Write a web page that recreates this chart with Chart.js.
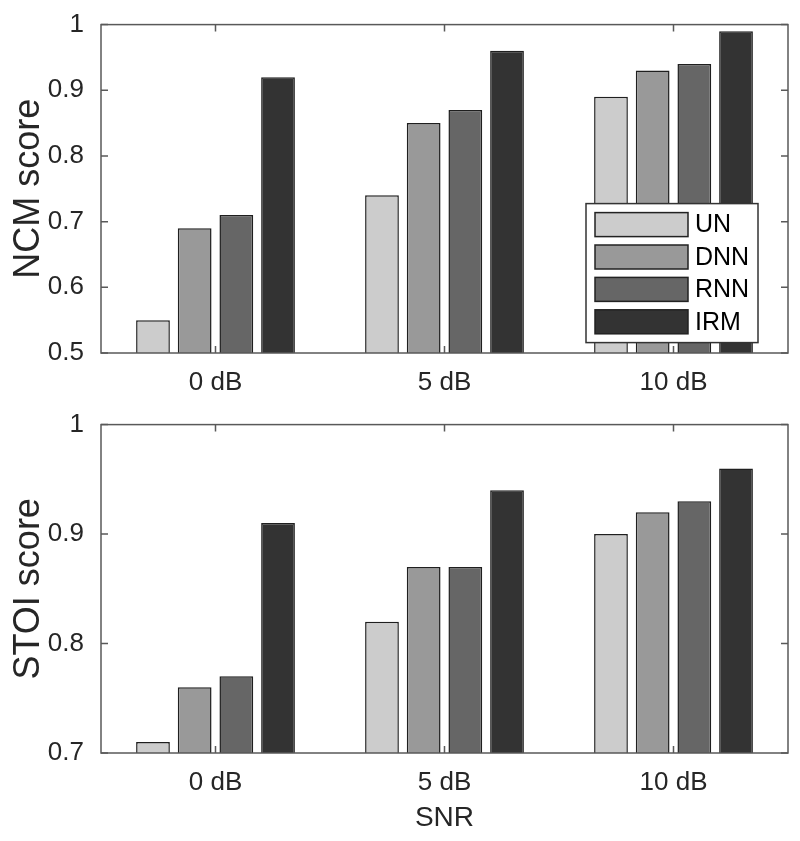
<!DOCTYPE html>
<html>
<head>
<meta charset="utf-8">
<script src="https://cdn.jsdelivr.net/npm/chart.js@4.4.0/dist/chart.umd.min.js"></script>
<style>
  body { margin: 0; background: #fff; }
  canvas { position: absolute; left: 0; }
  #ncm { top: 0; }
  #stoi { top: 400px; }
</style>
</head>
<body>
<canvas id="ncm" width="800" height="400"></canvas>
<canvas id="stoi" width="800" height="441"></canvas>
<script>
// data
const snrLabels = ["0 dB", "5 dB", "10 dB"];
const methods = ["UN", "DNN", "RNN", "IRM"];
const methodColors = ["#cccccc", "#999999", "#666666", "#333333"];

const ncmUN  = [0.55, 0.74, 0.89];
const ncmDNN = [0.69, 0.85, 0.93];
const ncmRNN = [0.71, 0.87, 0.94];
const ncmIRM = [0.92, 0.96, 0.99];

const stoiUN  = [0.71, 0.82, 0.90];
const stoiDNN = [0.76, 0.87, 0.92];
const stoiRNN = [0.77, 0.87, 0.93];
const stoiIRM = [0.91, 0.94, 0.96];

Chart.defaults.font.family = "'Liberation Sans', Arial, sans-serif";
Chart.defaults.color = "#262626";

// matlab style box with inward ticks, plus the boxed legend
const matlabBox = {
  id: "matlabBox",
  afterDatasetsDraw(chart, args, opts) {
    const { ctx, chartArea: a, scales: { x, y } } = chart;
    ctx.save();
    ctx.strokeStyle = "#595959";
    ctx.lineWidth = 1.5;
    ctx.strokeRect(a.left, a.top, a.width, a.height);
    ctx.beginPath();
    y.ticks.forEach(t => {
      const py = y.getPixelForValue(t.value);
      ctx.moveTo(a.left, py); ctx.lineTo(a.left + 7, py);
      ctx.moveTo(a.right, py); ctx.lineTo(a.right - 7, py);
    });
    x.ticks.forEach((t, i) => {
      const px = x.getPixelForTick(i);
      ctx.moveTo(px, a.top); ctx.lineTo(px, a.top + 7);
      ctx.moveTo(px, a.bottom); ctx.lineTo(px, a.bottom - 7);
    });
    ctx.stroke();

    if (opts.legend) {
      const lx = a.right - 202, ly = a.top + 179, lw = 172, lh = 139;
      ctx.fillStyle = "#fff";
      ctx.fillRect(lx, ly, lw, lh);
      ctx.strokeStyle = "#333";
      ctx.strokeRect(lx, ly, lw, lh);
      ctx.font = "25px 'Liberation Sans', Arial, sans-serif";
      ctx.textBaseline = "middle";
      chart.data.datasets.forEach((ds, i) => {
        const ry = ly + 21 + i * 32.4;
        ctx.fillStyle = ds.backgroundColor;
        ctx.fillRect(lx + 9, ry - 12, 93, 24);
        ctx.strokeStyle = "#222";
        ctx.strokeRect(lx + 9, ry - 12, 93, 24);
        ctx.fillStyle = "#000";
        ctx.fillText(ds.label, lx + 109, ry + 1);
      });
    }
    ctx.restore();
  }
};

function makeChart(id, series, yMin, yTitle, xTitle, legend, padTop, xHeight) {
  return new Chart(document.getElementById(id), {
    type: "bar",
    data: {
      labels: snrLabels,
      datasets: series.map((vals, i) => ({
        label: methods[i],
        data: vals,
        backgroundColor: methodColors[i],
        borderColor: "#1f1f1f",
        borderWidth: 1.5,
        borderSkipped: false,
        barPercentage: 0.81,
        categoryPercentage: 0.728,
      })),
    },
    options: {
      responsive: false,
      animation: false,
      layout: { padding: { top: padTop, right: 12, left: 0, bottom: 0 } },
      plugins: {
        legend: { display: false },
        tooltip: { enabled: false },
        matlabBox: { legend: legend },
      },
      scales: {
        x: {
          grid: { display: false },
          border: { display: false },
          ticks: { font: { size: 26 }, padding: 6, color: "#262626" },
          title: {
            display: !!xTitle,
            text: xTitle,
            font: { size: 28 },
            color: "#262626",
            padding: { top: 0, bottom: 6 },
          },
          afterFit: s => { s.height = xHeight; },
        },
        y: {
          min: yMin,
          max: 1,
          grid: { display: false },
          border: { display: false },
          ticks: {
            stepSize: 0.1,
            font: { size: 26 },
            padding: 9,
            color: "#262626",
            callback: v => String(+v.toFixed(2)),
          },
          title: {
            display: true,
            text: yTitle,
            font: { size: 36 },
            color: "#262626",
            padding: { top: 7, bottom: 0 },
          },
          afterFit: s => { s.width = 101; },
        },
      },
    },
    plugins: [matlabBox],
  });
}

makeChart("ncm", [ncmUN, ncmDNN, ncmRNN, ncmIRM], 0.5, "NCM score", "", true, 20, 47);
makeChart("stoi", [stoiUN, stoiDNN, stoiRNN, stoiIRM], 0.7, "STOI score", "SNR", false, 21, 88);
</script>
</body>
</html>
